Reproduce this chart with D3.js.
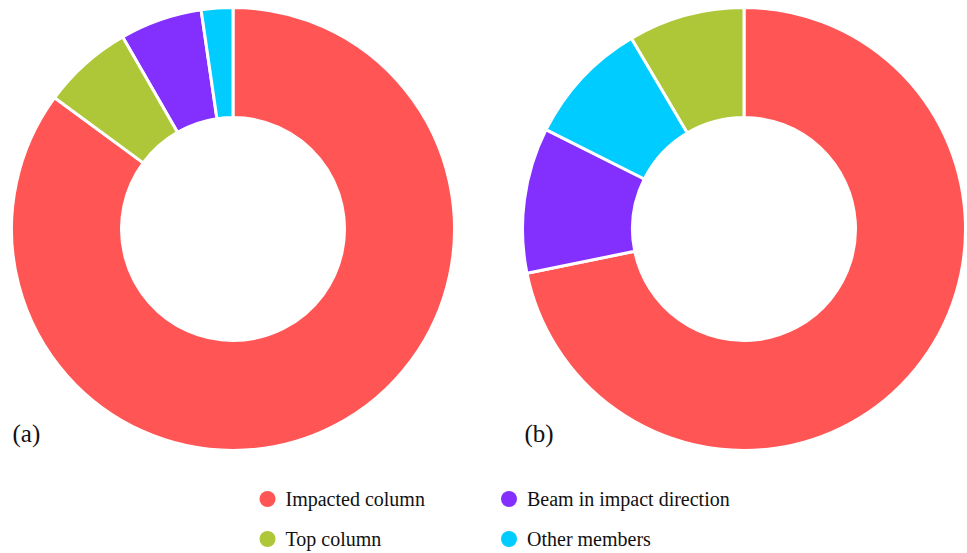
<!DOCTYPE html>
<html>
<head>
<meta charset="utf-8">
<script src="https://cdn.jsdelivr.net/npm/d3@7"></script>
<style>
  html, body { margin: 0; padding: 0; background: #fff; }
  svg { display: block; }
</style>
</head>
<body>
<svg id="chart" width="967" height="553"></svg>
<script>
// Member categories (legend order)
const categories = ["Impacted column", "Beam in impact direction", "Top column", "Other members"];
// Share of each member group (%) for case (a) and case (b)
const valuesA = [85.1, 6.0, 6.6, 2.3];
const valuesB = [71.8, 10.6, 8.5, 9.1];
const panelLabels = ["(a)", "(b)"];
const colors = ["#ff5555", "#8330ff", "#adc738", "#00ccff"];

const svg = d3.select("#chart");
const serif = "'Liberation Serif', 'Times New Roman', serif";

const color = d3.scaleOrdinal().domain(categories).range(colors);

const outerR = 221.5, innerR = 111.5;
const pie = d3.pie().value(d => d.value).sort((a, b) => b.value - a.value);
const arc = d3.arc().innerRadius(innerR).outerRadius(outerR);

const panels = [
  { values: valuesA, cx: 233, cy: 229, label: panelLabels[0], lx: 12.5 },
  { values: valuesB, cx: 744, cy: 229, label: panelLabels[1], lx: 524.5 }
];

panels.forEach(p => {
  const data = categories.map((c, i) => ({ name: c, value: p.values[i] }));
  const g = svg.append("g").attr("transform", `translate(${p.cx},${p.cy})`);
  g.selectAll("path")
    .data(pie(data))
    .join("path")
    .attr("d", arc)
    .attr("fill", d => color(d.data.name))
    .attr("stroke", "#fff")
    .attr("stroke-width", 3)
    .attr("stroke-linejoin", "round");

  svg.append("text")
    .attr("x", p.lx)
    .attr("y", 442)
    .attr("font-family", serif)
    .attr("font-size", 25)
    .attr("fill", "#111")
    .text(p.label);
});

// Legend, two columns by two rows
const legendPos = [
  { x: 267.5, y: 499 }, { x: 509, y: 499 },
  { x: 267.5, y: 539 }, { x: 509, y: 539 }
];
const legend = svg.append("g");
categories.forEach((c, i) => {
  const pos = legendPos[i];
  legend.append("circle")
    .attr("cx", pos.x).attr("cy", pos.y).attr("r", 8)
    .attr("fill", color(c));
  legend.append("text")
    .attr("x", pos.x + 18).attr("y", pos.y + 7)
    .attr("font-family", serif)
    .attr("font-size", 20)
    .attr("fill", "#111")
    .text(c);
});
</script>
</body>
</html>
